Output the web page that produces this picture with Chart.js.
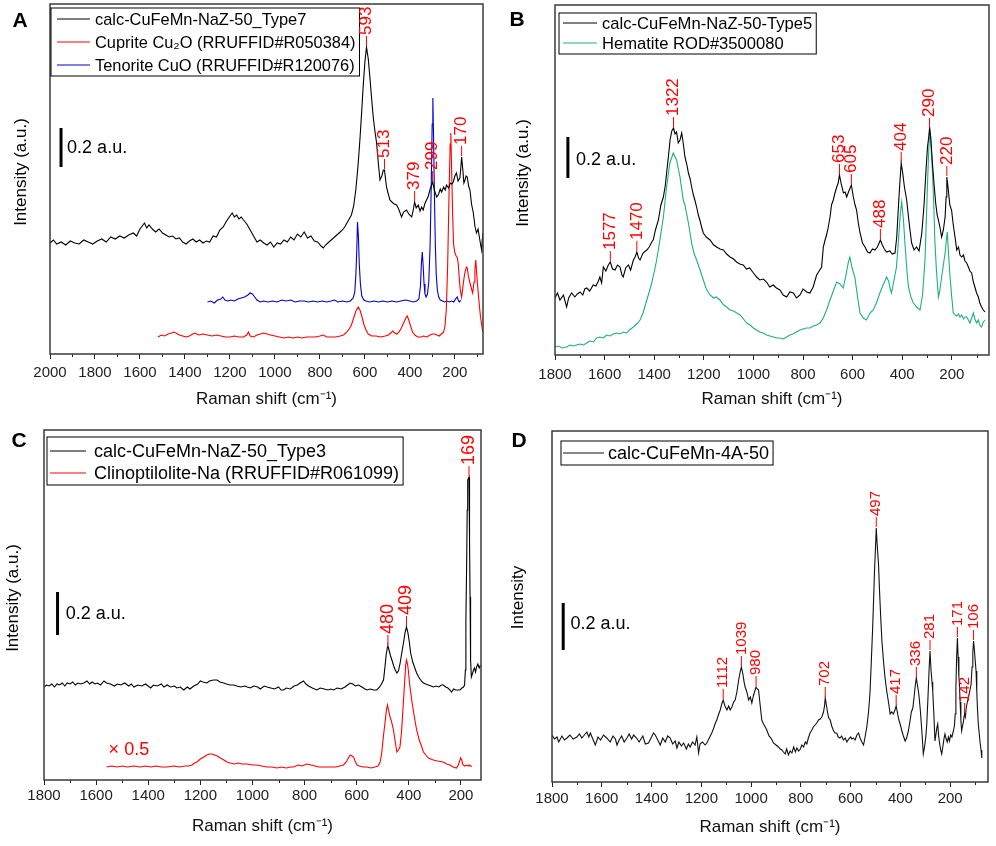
<!DOCTYPE html>
<html>
<head>
<meta charset="utf-8">
<script src="https://cdn.jsdelivr.net/npm/chart.js@4.4.1/dist/chart.umd.min.js"></script>
<style>
  body { margin: 0; background: #fff; }
  #wrap { position: relative; width: 996px; height: 846px; }
  canvas { position: absolute; }
</style>
</head>
<body>
<div id="wrap">
  <canvas id="cA" width="498" height="423" style="left:0;top:0"></canvas>
  <canvas id="cB" width="498" height="423" style="left:498px;top:0"></canvas>
  <canvas id="cC" width="498" height="423" style="left:0;top:423px"></canvas>
  <canvas id="cD" width="498" height="423" style="left:498px;top:423px"></canvas>
</div>
<script>
const FONT = '"Liberation Sans", Arial, sans-serif'

// ---------- panel A : [Raman shift, intensity] ----------
const aType7 = [[2000,111],[1985,114],[1970,110],[1950,112],[1930,109],[1910,113],[1890,111],[1870,110],[1850,114],[1830,112],[1810,110],[1790,113],[1770,115],[1750,112],[1730,117],[1710,115],[1690,118],[1670,116],[1650,119],[1630,121],[1615,118],[1600,125],[1590,128],[1580,131],[1570,126],[1560,129],[1545,125],[1530,122],[1515,125],[1500,121],[1485,119],[1470,117],[1455,118],[1440,115],[1425,116],[1410,112],[1395,110],[1380,113],[1365,115],[1350,112],[1335,114],[1320,111],[1305,113],[1290,112],[1275,118],[1260,117],[1245,124],[1230,127],[1215,133],[1200,138],[1190,141],[1180,137],[1170,139],[1160,135],[1150,137],[1140,134],[1125,130],[1110,124],[1095,118],[1080,112],[1065,114],[1050,111],[1035,109],[1020,112],[1005,107],[990,111],[975,110],[960,114],[945,112],[930,117],[915,114],[900,120],[885,117],[870,122],[855,116],[840,118],[825,113],[810,112],[795,108],[785,106],[775,109],[760,112],[745,115],[730,118],[715,121],[700,124],[690,127],[680,131],[670,135],[660,139],[650,148],[640,165],[630,190],[622,215],[615,240],[607,270],[600,292],[593,307],[585,295],[578,277],[570,255],[563,237],[555,222],[548,211],[540,190],[533,174],[525,178],[518,184],[513,184],[504,167],[496,160],[489,154],[480,152],[470,150],[459,149],[450,145],[437,137],[428,142],[415,144],[405,140],[392,137],[386,143],[379,152],[372,146],[363,149],[355,143],[348,147],[341,144],[334,150],[326,154],[318,158],[311,164],[305,168],[299,172],[290,163],[281,157],[272,160],[265,165],[259,162],[250,167],[243,164],[237,169],[228,166],[220,171],[213,170],[207,172],[200,178],[193,181],[186,173],[178,176],[174,185],[170,197],[165,185],[160,171],[155,174],[150,178],[145,177],[139,168],[133,164],[126,150],[118,141],[111,128],[104,121],[97,125],[92,118],[86,110],[81,104],[78,115],[76,121]]
const aCuprite = [[1520,17],[1505,19],[1490,18],[1475,20],[1460,21],[1450,22],[1440,21],[1425,19],[1410,18],[1395,17],[1380,18],[1365,20],[1355,21],[1340,19],[1320,20],[1300,19],[1280,18],[1260,19],[1240,18],[1220,17],[1200,17],[1180,18],[1160,17],[1140,17],[1125,19],[1118,22],[1110,18],[1095,17],[1080,19],[1065,20],[1050,21],[1035,20],[1020,19],[1000,18],[980,17],[960,16],[940,17],[920,16],[900,17],[880,16],[860,17],[840,17],[820,17],[800,18],[785,19],[770,17],[750,17],[730,17],[710,18],[695,19],[680,22],[670,25],[660,29],[650,36],[640,43],[630,47],[622,44],[614,38],[605,30],[595,24],[585,20],[570,18],[550,18],[530,17],[510,18],[495,19],[485,21],[477,23],[468,21],[458,20],[448,22],[438,26],[428,31],[418,36],[412,38],[405,34],[397,28],[388,22],[378,19],[365,17],[350,17],[340,18],[325,17],[310,19],[300,20],[290,20],[280,19],[270,18],[260,20],[250,22],[244,28],[238,45],[232,90],[226,160],[221,210],[218,221],[214,180],[210,140],[206,110],[200,101],[194,98],[190,97],[185,90],[181,77],[176,64],[170,57],[165,66],[160,75],[155,82],[149,87],[145,86],[140,78],[133,71],[127,66],[121,61],[115,72],[111,84],[107,94],[103,80],[99,68],[96,61],[91,48],[86,37],[80,28],[76,22]]
const aTenorite = [[1300,52],[1285,53],[1270,51],[1255,54],[1240,55],[1232,57],[1222,54],[1210,53],[1195,54],[1180,53],[1165,55],[1150,56],[1135,57],[1120,59],[1111,61],[1100,60],[1090,57],[1080,54],[1065,52],[1050,53],[1030,52],[1010,53],[990,52],[970,54],[950,53],[930,54],[910,52],[890,53],[870,53],[850,52],[830,53],[810,52],[790,53],[770,52],[750,53],[735,54],[720,52],[700,53],[680,52],[665,53],[652,56],[645,62],[640,80],[636,105],[633,132],[629,118],[625,90],[620,70],[614,58],[605,54],[595,53],[580,52],[560,53],[540,52],[520,53],[500,52],[480,53],[460,52],[440,53],[420,54],[400,53],[385,52],[370,53],[360,55],[353,68],[349,90],[345,102],[341,88],[337,70],[333,60],[328,57],[322,60],[316,72],[310,110],[305,170],[301,230],[298,256],[295,220],[291,160],[287,110],[283,80],[278,64],[272,57],[265,54],[255,53],[245,52],[235,53],[225,52],[215,53],[205,52],[197,55],[190,57],[184,53],[179,52],[175,54]]
const peaksA = [593, 513, 379, 299, 170]
const ticksA = [2000, 1800, 1600, 1400, 1200, 1000, 800, 600, 400, 200]

// ---------- panel B ----------
const bType5 = [[1800,57],[1790,62],[1780,55],[1766,60],[1753,48],[1745,57],[1733,62],[1720,58],[1710,61],[1699,63],[1688,60],[1680,66],[1672,67],[1660,64],[1646,70],[1635,69],[1625,74],[1619,78],[1612,72],[1605,88],[1595,84],[1585,90],[1577,93],[1568,86],[1558,85],[1548,90],[1538,88],[1530,80],[1525,78],[1515,87],[1504,90],[1495,85],[1484,95],[1477,98],[1470,103],[1463,97],[1457,95],[1445,102],[1430,105],[1420,108],[1410,113],[1404,115],[1395,125],[1383,135],[1373,150],[1363,158],[1355,170],[1350,182],[1342,200],[1336,215],[1329,224],[1322,227],[1316,221],[1310,223],[1303,212],[1296,215],[1289,222],[1282,210],[1276,198],[1268,190],[1262,182],[1255,176],[1249,168],[1242,160],[1236,155],[1229,148],[1222,140],[1216,135],[1209,128],[1202,122],[1190,118],[1175,115],[1160,110],[1148,108],[1135,106],[1121,105],[1108,101],[1094,98],[1080,96],[1068,93],[1055,91],[1041,90],[1028,86],[1015,87],[1000,82],[987,78],[974,75],[960,76],[947,73],[934,68],[920,70],[907,67],[893,65],[880,60],[866,58],[853,63],[839,62],[826,57],[812,60],[800,66],[785,63],[772,62],[759,68],[745,80],[735,84],[725,88],[718,108],[711,115],[705,120],[698,128],[691,138],[685,150],[678,155],[671,162],[664,168],[658,172],[653,180],[645,170],[637,162],[630,163],[624,158],[615,164],[605,170],[597,158],[590,150],[584,145],[577,132],[570,122],[560,112],[550,108],[540,103],[530,102],[520,106],[510,105],[500,108],[493,112],[488,115],[480,110],[472,106],[463,103],[450,104],[440,101],[429,102],[422,118],[416,145],[410,170],[404,192],[398,182],[391,168],[382,155],[372,132],[362,112],[352,105],[342,108],[332,104],[321,122],[312,150],[304,185],[298,208],[293,218],[290,226],[285,218],[279,195],[272,172],[265,152],[259,140],[254,135],[248,128],[241,118],[234,125],[227,138],[223,158],[220,178],[214,165],[208,150],[201,145],[194,130],[187,118],[180,105],[173,108],[167,100],[160,98],[153,100],[147,94],[140,92],[133,88],[127,84],[120,82],[113,73],[107,68],[100,62],[93,58],[87,52],[80,48],[73,45],[66,43]]
const bHematite = [[1800,8],[1785,9],[1770,7],[1753,8],[1740,10],[1725,9],[1713,10],[1700,11],[1685,10],[1672,12],[1660,14],[1645,13],[1632,17],[1620,18],[1605,17],[1592,20],[1578,19],[1565,21],[1551,22],[1538,21],[1525,23],[1511,22],[1500,25],[1484,28],[1470,31],[1457,35],[1445,42],[1430,55],[1420,63],[1410,72],[1400,83],[1390,95],[1377,115],[1363,138],[1350,168],[1337,192],[1323,202],[1310,195],[1296,178],[1283,155],[1276,150],[1262,132],[1249,112],[1240,102],[1229,95],[1215,85],[1202,75],[1190,66],[1175,60],[1160,57],[1150,58],[1135,55],[1120,50],[1108,48],[1094,45],[1080,44],[1067,42],[1054,40],[1040,36],[1027,32],[1014,30],[1000,27],[987,25],[974,23],[960,22],[947,20],[933,19],[920,18],[906,17],[893,17],[880,16],[866,18],[853,20],[840,21],[826,23],[812,25],[800,26],[786,27],[772,27],[758,29],[745,30],[732,32],[718,37],[705,45],[691,55],[678,64],[664,73],[651,71],[638,67],[628,78],[618,92],[611,98],[603,88],[591,78],[580,58],[570,42],[557,37],[544,35],[530,42],[517,45],[504,52],[490,62],[477,70],[463,78],[455,74],[448,66],[443,62],[433,75],[423,88],[415,115],[408,140],[402,153],[395,135],[389,112],[382,88],[375,68],[365,58],[355,52],[342,48],[328,45],[318,60],[308,95],[302,140],[297,178],[292,210],[288,228],[284,210],[277,178],[272,145],[268,112],[262,85],[254,58],[248,65],[241,78],[234,90],[227,102],[222,115],[218,123],[213,100],[207,78],[201,60],[194,42],[187,40],[180,39],[173,41],[167,38],[160,40],[153,36],[147,38],[140,38],[133,35],[127,32],[120,37],[113,42],[107,36],[100,32],[93,35],[87,30],[80,28],[73,33],[66,35]]
const peaksB = [1577, 1470, 1322, 653, 605, 488, 404, 290, 220]
const ticksB = [1800, 1600, 1400, 1200, 1000, 800, 600, 400, 200]

// ---------- panel C ----------
const cType3 = [[1800,93],[1790,95],[1780,94],[1770,96],[1760,93],[1750,96],[1740,95],[1730,97],[1720,94],[1711,97],[1700,96],[1690,98],[1680,95],[1670,97],[1660,96],[1647,97],[1635,99],[1625,96],[1615,98],[1605,96],[1595,97],[1583,95],[1570,99],[1560,97],[1545,96],[1530,94],[1519,96],[1505,95],[1490,97],[1475,94],[1465,96],[1455,93],[1440,95],[1425,94],[1410,96],[1391,92],[1380,95],[1365,94],[1350,96],[1340,93],[1327,95],[1315,93],[1300,94],[1290,92],[1277,93],[1264,90],[1250,93],[1240,91],[1225,94],[1210,96],[1200,99],[1190,98],[1175,97],[1165,99],[1150,100],[1136,100],[1125,98],[1110,97],[1100,96],[1085,95],[1072,95],[1060,94],[1045,93],[1030,94],[1020,93],[1008,92],[995,94],[980,93],[970,91],[955,94],[944,93],[930,92],[915,91],[900,93],[890,90],[881,90],[870,92],[855,91],[840,94],[828,95],[817,97],[804,99],[795,96],[785,94],[770,92],[753,90],[740,92],[725,91],[710,90],[700,91],[689,90],[675,92],[660,91],[645,93],[635,95],[625,97],[615,96],[605,94],[593,95],[580,93],[568,91],[561,90],[548,91],[535,90],[523,90],[512,93],[505,96],[497,100],[492,112],[487,125],[482,133],[480,134],[476,130],[470,124],[465,120],[458,114],[452,110],[446,107],[440,109],[434,116],[427,127],[420,138],[414,148],[409,153],[404,148],[398,138],[393,127],[385,118],[377,112],[370,107],[360,102],[352,99],[344,97],[335,96],[325,95],[315,94],[306,93],[295,94],[285,93],[275,95],[268,95],[258,93],[250,92],[242,90],[236,88],[228,91],[220,90],[212,90],[204,90],[196,92],[190,93],[186,95],[183,110],[181,160],[178,217],[176,270],[174,300],[169,303],[167,240],[165,183],[163,120],[160,103],[155,107],[152,110],[148,112],[144,108],[140,113],[135,116],[130,112],[125,115]]
const cClino = [[1560,13],[1540,14],[1520,13],[1500,14],[1480,13],[1455,14],[1430,13],[1410,14],[1390,13],[1370,14],[1350,13],[1327,13],[1300,14],[1280,13],[1260,14],[1245,14],[1232,15],[1222,17],[1213,18],[1200,21],[1187,23],[1175,25],[1165,26],[1155,26],[1145,25],[1135,24],[1123,22],[1110,20],[1098,18],[1085,17],[1070,16],[1055,17],[1040,16],[1020,16],[1000,15],[983,15],[965,14],[945,13],[925,13],[906,12],[890,13],[870,12],[855,13],[842,13],[825,15],[810,14],[791,16],[775,15],[760,14],[745,13],[720,13],[700,13],[680,13],[665,14],[651,15],[640,18],[632,22],[625,25],[618,24],[612,23],[605,18],[598,15],[590,14],[575,13],[561,13],[545,12],[530,13],[518,14],[510,18],[504,27],[497,45],[491,58],[486,70],[482,75],[478,70],[472,63],[466,58],[459,50],[452,38],[446,28],[440,30],[434,33],[428,48],[421,77],[416,98],[412,115],[409,120],[405,116],[402,110],[397,96],[389,80],[380,65],[370,50],[360,40],[350,33],[344,28],[335,25],[325,22],[306,20],[290,19],[268,18],[255,16],[242,15],[230,13],[217,12],[210,15],[205,19],[201,22],[197,20],[192,15],[185,14],[178,15],[170,14],[166,15],[159,13]]
const peaksC = [480, 409, 169]
const ticksC = [1800, 1600, 1400, 1200, 1000, 800, 600, 400, 200]

// ---------- panel D ----------
const d4A50 = [[1800,47],[1790,43],[1780,45],[1773,40],[1760,46],[1750,42],[1740,44],[1728,47],[1715,43],[1700,45],[1690,48],[1680,44],[1670,47],[1660,50],[1652,45],[1646,49],[1636,43],[1626,37],[1615,45],[1605,42],[1593,47],[1580,44],[1566,40],[1555,46],[1545,43],[1539,37],[1530,42],[1520,46],[1510,40],[1499,44],[1490,48],[1480,43],[1472,47],[1460,44],[1450,40],[1445,42],[1435,46],[1425,38],[1412,39],[1400,45],[1392,49],[1385,47],[1375,42],[1365,37],[1355,44],[1345,40],[1335,46],[1325,44],[1315,38],[1305,41],[1298,34],[1290,40],[1280,36],[1271,39],[1260,33],[1252,38],[1245,35],[1235,40],[1225,37],[1218,45],[1211,29],[1205,38],[1195,40],[1185,37],[1178,39],[1168,44],[1158,49],[1150,54],[1145,58],[1138,62],[1130,68],[1124,72],[1118,78],[1112,82],[1105,76],[1097,72],[1090,76],[1084,72],[1077,75],[1070,80],[1064,82],[1057,90],[1050,102],[1044,110],[1039,115],[1033,108],[1028,100],[1024,95],[1017,90],[1010,82],[1003,85],[997,79],[991,86],[986,90],[980,95],[975,93],[970,92],[964,78],[957,62],[950,58],[943,55],[937,52],[928,46],[920,44],[910,39],[900,37],[890,35],[883,33],[876,32],[870,30],[863,28],[857,33],[850,27],[843,31],[836,29],[829,35],[822,30],[816,34],[809,31],[802,33],[796,37],[789,35],[782,40],[776,38],[770,44],[763,49],[756,52],[750,55],[743,57],[736,59],[729,62],[722,63],[716,65],[709,70],[705,76],[702,84],[698,78],[693,70],[688,64],[682,62],[676,56],[670,52],[663,49],[656,49],[650,45],[643,44],[636,46],[629,42],[622,44],[615,40],[608,43],[600,45],[595,43],[589,44],[582,42],[575,47],[568,49],[562,44],[555,40],[548,37],[542,45],[535,55],[528,70],[522,90],[517,120],[512,151],[508,180],[504,211],[500,235],[497,254],[493,236],[488,218],[484,192],[479,164],[474,140],[468,121],[462,105],[455,91],[448,80],[441,68],[435,70],[428,68],[422,72],[417,76],[411,68],[406,62],[401,58],[395,52],[388,46],[381,41],[375,44],[368,51],[362,60],[356,70],[350,74],[345,85],[340,97],[336,104],[331,96],[326,88],[320,72],[315,55],[311,40],[308,28],[303,35],[298,45],[294,58],[290,80],[287,98],[285,111],[281,131],[277,112],[273,100],[270,91],[266,70],[261,41],[257,48],[253,55],[250,58],[246,45],[242,38],[238,32],[234,28],[229,36],[225,43],[221,48],[217,44],[212,40],[207,45],[203,41],[198,47],[193,45],[187,51],[183,56],[180,68],[177,95],[174,125],[171,144],[168,125],[165,105],[163,98],[160,80],[157,62],[154,51],[151,55],[147,60],[144,66],[142,68],[139,65],[135,75],[131,80],[127,84],[122,90],[116,98],[112,115],[109,130],[106,141],[102,130],[99,120],[96,111],[93,90],[90,72],[87,58],[83,48],[80,40],[76,32],[73,24]]
const peaksD = [1112, 1039, 980, 702, 497, 417, 336, 281, 171, 142, 106]
const ticksD = [1800, 1600, 1400, 1200, 1000, 800, 600, 400, 200]

// 0.2 a.u. scale bars, in data units of each panel
const barA = { x: 1951, from: 187, to: 226, tx: 1924, ty: 206 }
const barB = { x: 1748, from: 177, to: 218, tx: 1715, ty: 195 }
const barC = { x: 1748, from: 145, to: 188, tx: 1717, ty: 166 }
const barD = { x: 1755, from: 132, to: 179, tx: 1726, ty: 158 }

const RED = '#f00'
const pts = arr => arr.map(([x, y]) => ({ x, y }))

function nearest(data, v) {
  let best = data[0]
  for (const p of data) if (Math.abs(p.x - v) < Math.abs(best.x - v)) best = p
  return best
}

// frame, letters, legend box, scale bar and peak labels
const deco = {
  id: 'deco',
  afterDatasetsDraw(chart, args, o) {
    const { ctx, chartArea: a, scales: { x, y } } = chart
    ctx.save()

    // shorter minor ticks between the labelled ones
    ctx.strokeStyle = '#222'
    ctx.lineWidth = 1
    for (const v of o.ticks) {
      const m = v - 100
      if (m < x.min) continue
      const px = Math.round(x.getPixelForValue(m)) + 0.5
      ctx.beginPath()
      ctx.moveTo(px, a.bottom)
      ctx.lineTo(px, a.bottom + 3)
      ctx.stroke()
    }

    ctx.strokeStyle = '#3a3a3a'
    ctx.lineWidth = 1.5
    ctx.strokeRect(a.left, a.top, a.right - a.left, a.bottom - a.top)

    // panel letter
    ctx.fillStyle = '#000'
    ctx.font = 'bold 21px ' + FONT
    ctx.textAlign = 'center'
    ctx.textBaseline = 'middle'
    ctx.fillText(o.letter, o.letterX, o.letterY)

    // y title
    ctx.save()
    ctx.translate(o.ytX, (a.top + a.bottom) / 2 + o.ytDy)
    ctx.rotate(-Math.PI / 2)
    ctx.font = '17px ' + FONT
    ctx.fillText(o.ytitle, 0, 0)
    ctx.restore()

    // legend
    const L = o.legend
    const bx = a.left + L.dx, by = a.top + L.dy
    ctx.font = L.size + 'px ' + FONT
    ctx.textAlign = 'left'
    let w = 0
    chart.data.datasets.forEach(d => { w = Math.max(w, ctx.measureText(d.label).width) })
    ctx.strokeStyle = '#000'
    ctx.lineWidth = 1
    ctx.strokeRect(bx, by, L.textX + w + 4, L.h)
    chart.data.datasets.forEach((d, i) => {
      const ry = by + L.row0 + i * L.step
      ctx.strokeStyle = d.borderColor
      ctx.beginPath()
      ctx.moveTo(bx + L.l0, ry)
      ctx.lineTo(bx + L.l1, ry)
      ctx.stroke()
      ctx.fillStyle = '#000'
      ctx.fillText(d.label, bx + L.textX, ry + 1)
    })

    // scale bar
    const b = o.bar
    ctx.strokeStyle = '#000'
    ctx.lineWidth = 3
    ctx.beginPath()
    ctx.moveTo(x.getPixelForValue(b.x), y.getPixelForValue(b.from))
    ctx.lineTo(x.getPixelForValue(b.x), y.getPixelForValue(b.to))
    ctx.stroke()
    ctx.font = '18px ' + FONT
    ctx.fillStyle = '#000'
    ctx.fillText('0.2 a.u.', x.getPixelForValue(b.tx), y.getPixelForValue(b.ty))

    // extra notes
    for (const n of o.notes || []) {
      ctx.fillStyle = n.color
      ctx.fillText(n.text, x.getPixelForValue(n.x), y.getPixelForValue(n.y))
    }

    // peak labels
    ctx.strokeStyle = RED
    ctx.fillStyle = RED
    ctx.lineWidth = 1
    ctx.font = o.peakFont
    const src = chart.data.datasets[0].data
    for (const pk of o.peaks) {
      const p = nearest(src, pk)
      const px = x.getPixelForValue(p.x), py = y.getPixelForValue(p.y)
      ctx.beginPath()
      ctx.moveTo(px, py - 1)
      ctx.lineTo(px, py - 11)
      ctx.stroke()
      ctx.save()
      ctx.translate(px, py - 12)
      ctx.rotate(-Math.PI / 2)
      ctx.textAlign = 'left'
      ctx.textBaseline = 'middle'
      ctx.fillText(String(pk), 0, 0)
      ctx.restore()
    }
    ctx.restore()
  }
}

function makeChart(id, datasets, c) {
  c.deco.ticks = c.ticks
  return new Chart(document.getElementById(id), {
    type: 'line',
    data: { datasets },
    plugins: [deco],
    options: {
      responsive: false,
      animation: false,
      events: [],
      layout: { padding: c.pad },
      elements: { point: { radius: 0 }, line: { borderWidth: 1, tension: 0 } },
      plugins: { legend: { display: false }, tooltip: { enabled: false }, deco: c.deco },
      scales: {
        x: {
          type: 'linear', reverse: true, min: c.xmin, max: c.xmax,
          afterBuildTicks: s => { s.ticks = c.ticks.map(v => ({ value: v })) },
          afterFit: s => { s.height = c.xh },
          ticks: {
            autoSkip: false, maxRotation: 0, padding: c.tickPad, color: '#222',
            font: { family: FONT, size: 15 },
            callback: v => String(v)
          },
          grid: { drawOnChartArea: false, tickLength: 5, color: '#222' },
          border: { display: false },
          title: { display: true, text: 'Raman shift (cm⁻¹)', color: '#111', font: { family: FONT, size: 17 }, padding: { top: 0, bottom: c.xtPad } }
        },
        y: {
          min: 0, max: c.ymax,
          afterFit: s => { s.width = c.yw },
          ticks: { display: false },
          grid: { display: false },
          border: { display: false }
        }
      }
    }
  })
}

const line = (label, data, color) => ({ label, data: pts(data), borderColor: color, borderWidth: 1.1, fill: false })

makeChart('cA', [
  line('calc-CuFeMn-NaZ-50_Type7', aType7, '#000'),
  line('Cuprite Cu₂O (RRUFFID#R050384)', aCuprite, RED),
  line('Tenorite CuO (RRUFFID#R120076)', aTenorite, '#0000d0')
], {
  xmin: 75, xmax: 2000, ymax: 350, ticks: ticksA,
  pad: { left: 0, right: 15, top: 4, bottom: 0 }, yw: 50, xh: 69, tickPad: 5, xtPad: 13,
  deco: {
    letter: 'A', letterX: 20, letterY: 21, ytitle: 'Intensity (a.u.)', ytX: 21, ytDy: -7,
    legend: { dx: 1, dy: 4, h: 68, row0: 11, step: 23, l0: 6, l1: 39, textX: 44, size: 16.4 },
    bar: barA, peaks: peaksA, peakFont: '17px ' + FONT
  }
})

makeChart('cB', [
  line('calc-CuFeMn-NaZ-50-Type5', bType5, '#000'),
  line('Hematite ROD#3500080', bHematite, '#1fae82')
], {
  xmin: 50, xmax: 1800, ymax: 350, ticks: ticksB,
  pad: { left: 0, right: 7, top: 5, bottom: 0 }, yw: 57, xh: 68, tickPad: 6, xtPad: 13,
  deco: {
    letter: 'B', letterX: 19, letterY: 20, ytitle: 'Intensity (a.u.)', ytX: 25, ytDy: -7,
    legend: { dx: 4, dy: 8, h: 41, row0: 10, step: 20, l0: 4, l1: 38, textX: 43, size: 16.6 },
    bar: barB, peaks: peaksB, peakFont: '17px ' + FONT
  }
})

makeChart('cC', [
  line('calc-CuFeMn-NaZ-50_Type3', cType3, '#000'),
  line('Clinoptilolite-Na (RRUFFID#R061099)', cClino, RED)
], {
  xmin: 123, xmax: 1800, ymax: 350, ticks: ticksC,
  pad: { left: 0, right: 17, top: 7, bottom: 0 }, yw: 44, xh: 66, tickPad: 2, xtPad: 9,
  deco: {
    letter: 'C', letterX: 19, letterY: 18, ytitle: 'Intensity (a.u.)', ytX: 13, ytDy: -7,
    legend: { dx: 3, dy: 7, h: 48, row0: 14, step: 22, l0: 3, l1: 39, textX: 47, size: 18 },
    bar: barC, peaks: peaksC, peakFont: '18px ' + FONT,
    notes: [{ x: 1552, y: 30, text: '× 0.5', color: RED }]
  }
})

makeChart('cD', [
  line('calc-CuFeMn-4A-50', d4A50, '#111')
], {
  xmin: 48, xmax: 1800, ymax: 351, ticks: ticksD,
  pad: { left: 0, right: 8, top: 8, bottom: 0 }, yw: 54, xh: 64, tickPad: 3, xtPad: 8,
  deco: {
    letter: 'D', letterX: 21, letterY: 18, ytitle: 'Intensity', ytX: 20, ytDy: -9,
    legend: { dx: 9, dy: 10, h: 24, row0: 12, step: 22, l0: 2, l1: 43, textX: 47, size: 18 },
    bar: barD, peaks: peaksD, peakFont: '15px ' + FONT
  }
})
</script>
</body>
</html>
